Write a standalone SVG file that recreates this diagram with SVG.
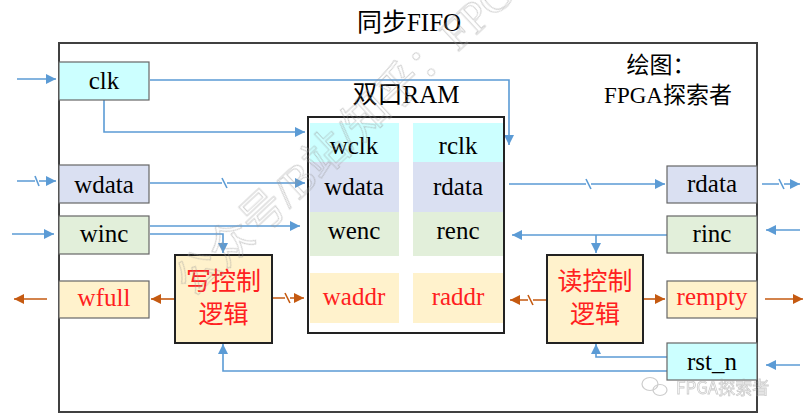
<svg xmlns="http://www.w3.org/2000/svg" width="811" height="417" viewBox="0 0 811 417">
<style>
.t{font-family:"Liberation Serif","Noto Sans CJK SC",serif;font-size:25px;text-anchor:middle;fill:#000}
.r{fill:#FF2020}
.io{stroke:#666;stroke-width:1.2}
.cy{fill:#CCFFFF}.lv{fill:#DAE0F2}.gr{fill:#E2EFDA}.ye{fill:#FFF2CC}
.b{fill:none;stroke:#5B9BD5;stroke-width:1.6}
.o{fill:none;stroke:#C55A11;stroke-width:1.6}
</style>
<defs>
<marker id="ab" markerUnits="userSpaceOnUse" markerWidth="11" markerHeight="10" refX="10" refY="5" orient="auto"><path d="M0,0 L10,5 L0,10 z" fill="#5B9BD5"/></marker>
<marker id="ao" markerUnits="userSpaceOnUse" markerWidth="11" markerHeight="10" refX="10" refY="5" orient="auto"><path d="M0,0 L10,5 L0,10 z" fill="#C55A11"/></marker>
</defs>
<rect width="811" height="417" fill="#fff"/>
<text class="t" x="409" y="31">同步FIFO</text>
<rect x="59" y="43" width="698" height="369" fill="none" stroke="#404040" stroke-width="2"/>
<text class="t" x="661" y="73" style="font-size:23px">绘图：</text>
<text class="t" x="668" y="103" style="font-size:23px">FPGA探索者</text>
<text class="t" x="406" y="103">双口RAM</text>

<g id="connectors">
<path class="b" d="M17,79 H56" marker-end="url(#ab)"/>
<path class="b" d="M150,80 H509 V145" marker-end="url(#ab)"/>
<path class="b" d="M104,100 V132 H305" marker-end="url(#ab)"/>
<path class="b" d="M17,181 H35 M39,181 H56" marker-end="url(#ab)"/>
<path class="b" d="M35,176 L39,186"/>
<path class="b" d="M150,183 H222 M227,183 H305" marker-end="url(#ab)"/>
<path class="b" d="M222,178 L227,188"/>
<path class="b" d="M12,234 H54" marker-end="url(#ab)"/>
<path class="b" d="M150,226 H300" marker-end="url(#ab)"/>
<path class="b" d="M150,234 H223 V253" marker-end="url(#ab)"/>
<path class="o" d="M175,299 H151" marker-end="url(#ao)"/>
<path class="o" d="M47,299 H14" marker-end="url(#ao)"/>
<path class="o" d="M273,298 H285 M290,298 H304" marker-end="url(#ao)"/>
<path class="o" d="M285,293 L290,303"/>
<path class="b" d="M509,184 H586 M591,184 H665" marker-end="url(#ab)"/>
<path class="b" d="M586,179 L591,189"/>
<path class="b" d="M762,184 H779 M784,184 H800" marker-end="url(#ab)"/>
<path class="b" d="M779,179 L784,189"/>
<path class="b" d="M800,230 H766" marker-end="url(#ab)"/>
<path class="b" d="M667,235 H512" marker-end="url(#ab)"/>
<path class="b" d="M596,235 V253" marker-end="url(#ab)"/>
<path class="o" d="M547,300 H533 M528,300 H510" marker-end="url(#ao)"/>
<path class="o" d="M528,295 L533,305"/>
<path class="o" d="M643,299 H665" marker-end="url(#ao)"/>
<path class="o" d="M765,299 H803" marker-end="url(#ao)"/>
<path class="b" d="M800,365 H766" marker-end="url(#ab)"/>
<path class="b" d="M667,357 H596 V344" marker-end="url(#ab)"/>
<path class="b" d="M667,371 H223 V344" marker-end="url(#ab)"/>
</g>

<g id="clk"><rect class="io cy" x="59" y="62" width="90" height="38"/><text class="t" x="104" y="89">clk</text></g>
<g id="wdata"><rect class="io lv" x="59" y="165" width="90" height="38"/><text class="t" x="104" y="193">wdata</text></g>
<g id="winc"><rect class="io gr" x="59" y="216" width="90" height="38"/><text class="t" x="104" y="242">winc</text></g>
<g id="wfull"><rect class="io ye" x="59" y="281" width="90" height="37"/><text class="t r" x="104" y="306">wfull</text></g>

<g id="ram">
<rect x="308" y="117" width="196" height="216" fill="#fff" stroke="#222" stroke-width="2"/>
<rect class="cy" x="310" y="123" width="89" height="39"/><rect class="cy" x="413" y="123" width="90" height="39"/>
<rect class="lv" x="310" y="162" width="89" height="50"/><rect class="lv" x="413" y="162" width="90" height="50"/>
<rect class="gr" x="310" y="212" width="89" height="44"/><rect class="gr" x="413" y="212" width="90" height="44"/>
<rect class="ye" x="310" y="273" width="89" height="50"/><rect class="ye" x="413" y="273" width="90" height="50"/>
<text class="t" x="354" y="154">wclk</text><text class="t" x="458" y="154">rclk</text>
<text class="t" x="354" y="195">wdata</text><text class="t" x="458" y="195">rdata</text>
<text class="t" x="354" y="239">wenc</text><text class="t" x="458" y="239">renc</text>
<text class="t r" x="354" y="305">waddr</text><text class="t r" x="458" y="305">raddr</text>
</g>

<g id="wctrl"><rect class="ye" x="175" y="255" width="97" height="88" stroke="#222" stroke-width="2"/>
<text class="t r" x="223.5" y="290">写控制</text><text class="t r" x="223.5" y="323">逻辑</text></g>
<g id="rctrl"><rect class="ye" x="547" y="255" width="96" height="88" stroke="#222" stroke-width="2"/>
<text class="t r" x="595" y="290">读控制</text><text class="t r" x="595" y="323">逻辑</text></g>

<g id="rdata"><rect class="io lv" x="667" y="166" width="90" height="37"/><text class="t" x="712" y="192">rdata</text></g>
<g id="rinc"><rect class="io gr" x="667" y="216" width="90" height="37"/><text class="t" x="712" y="242">rinc</text></g>
<g id="rempty"><rect class="io ye" x="667" y="281" width="90" height="37"/><text class="t r" x="712" y="305">rempty</text></g>
<g id="rst_n"><rect class="io cy" x="667" y="343" width="90" height="37"/><text class="t" x="712" y="370">rst_n</text></g>

<g id="watermark" opacity="0.5">
<text transform="translate(193,299) rotate(-43)" style="font-family:'Liberation Serif','Noto Sans CJK SC',serif;font-size:44px;fill:none;stroke:#999;stroke-width:0.9">公众号/B站/知乎：FPGA探索者</text>
<g fill="none" stroke="#999" stroke-width="1.2"><ellipse cx="650" cy="384" rx="8" ry="6.5"/><ellipse cx="660" cy="390" rx="7" ry="5.5"/></g>
<text x="676" y="394" style="font-family:'Noto Sans CJK SC',sans-serif;font-size:17px;fill:none;stroke:#999;stroke-width:0.8">FPGA探索者</text>
</g>
</svg>
